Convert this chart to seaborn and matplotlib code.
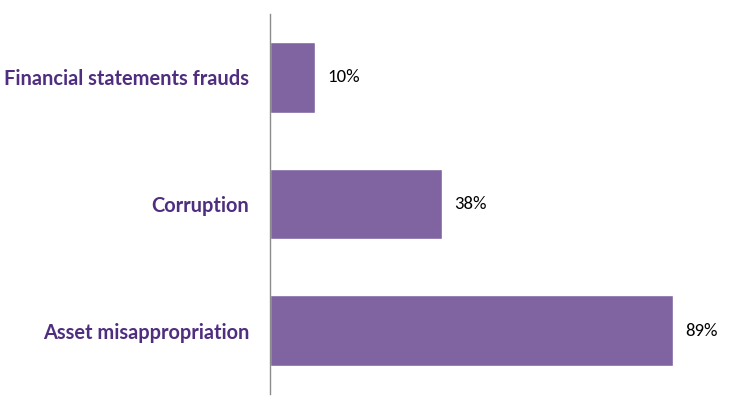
import matplotlib
matplotlib.use("Agg")
import matplotlib.pyplot as plt
import seaborn as sns
import pandas as pd

# Data
categories = ["Financial statements frauds", "Corruption", "Asset misappropriation"]
values = [10, 38, 89]

df = pd.DataFrame({"category": categories, "value": values})

sns.set_style("white")
plt.rcParams["font.family"] = ["Lato", "DejaVu Sans"]

fig = plt.figure(figsize=(7.38, 4.09), dpi=100)
ax = fig.add_axes([270 / 738, 1 - 394 / 409, 450 / 738, 380 / 409])

sns.barplot(data=df, x="value", y="category", color="#8064A2", saturation=1,
            width=0.56, ax=ax)

ax.set_xlim(0, 450 / 4.53)
ax.set_ylim(2.5, -0.5)

for i, v in enumerate(values):
    ax.text(v + 2.6, i, f"{v}%", va="center", ha="left", fontsize=13.5,
            color="black", family=["Carlito", "Lato", "DejaVu Sans"])

ax.set_xlabel("")
ax.set_ylabel("")
ax.set_xticks([])
ax.tick_params(axis="y", length=0, pad=15)
for lab in ax.get_yticklabels():
    lab.set_fontsize(14.4)
    lab.set_fontweight("bold")
    lab.set_color("#4F2D7F")

for side in ["top", "right", "bottom"]:
    ax.spines[side].set_visible(False)
ax.spines["left"].set_color("#8C8C8C")
ax.spines["left"].set_linewidth(1)

fig.savefig("out.png", dpi=100)
